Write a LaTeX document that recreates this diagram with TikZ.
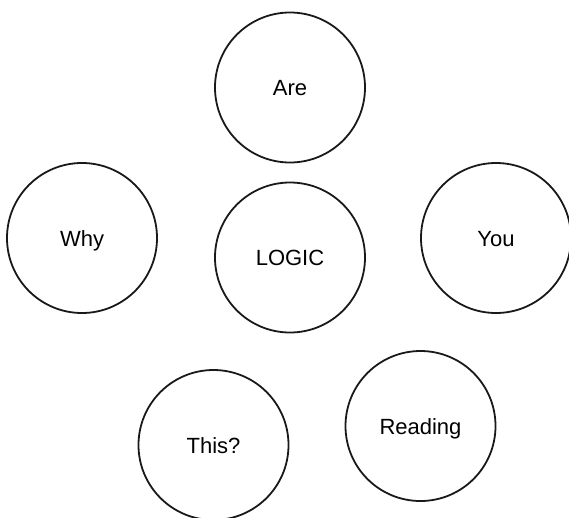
\documentclass[tikz,border=0pt]{standalone}
\usepackage{fontspec}
\setmainfont{Liberation Sans}
\begin{document}
\begin{tikzpicture}[x=1pt,y=-1pt,
  bubble/.style={draw=black!90, circle, line width=1.8pt, minimum size=150pt, inner sep=0pt,
    font=\fontsize{22}{26}\selectfont, text height=16pt, text depth=0pt}]
\useasboundingbox (0,0) rectangle (569,517);
\node[bubble] (are) at (290,87.5) {Are};
\node[bubble] (why) at (82,238) {Why};
\node[bubble] (logic) at (290,257.5) {LOGIC};
\node[bubble] (you) at (496,238) {You};
\node[bubble] (this) at (213.5,445) {This?};
\node[bubble] (reading) at (420.5,426) {Reading};
\end{tikzpicture}
\end{document}
